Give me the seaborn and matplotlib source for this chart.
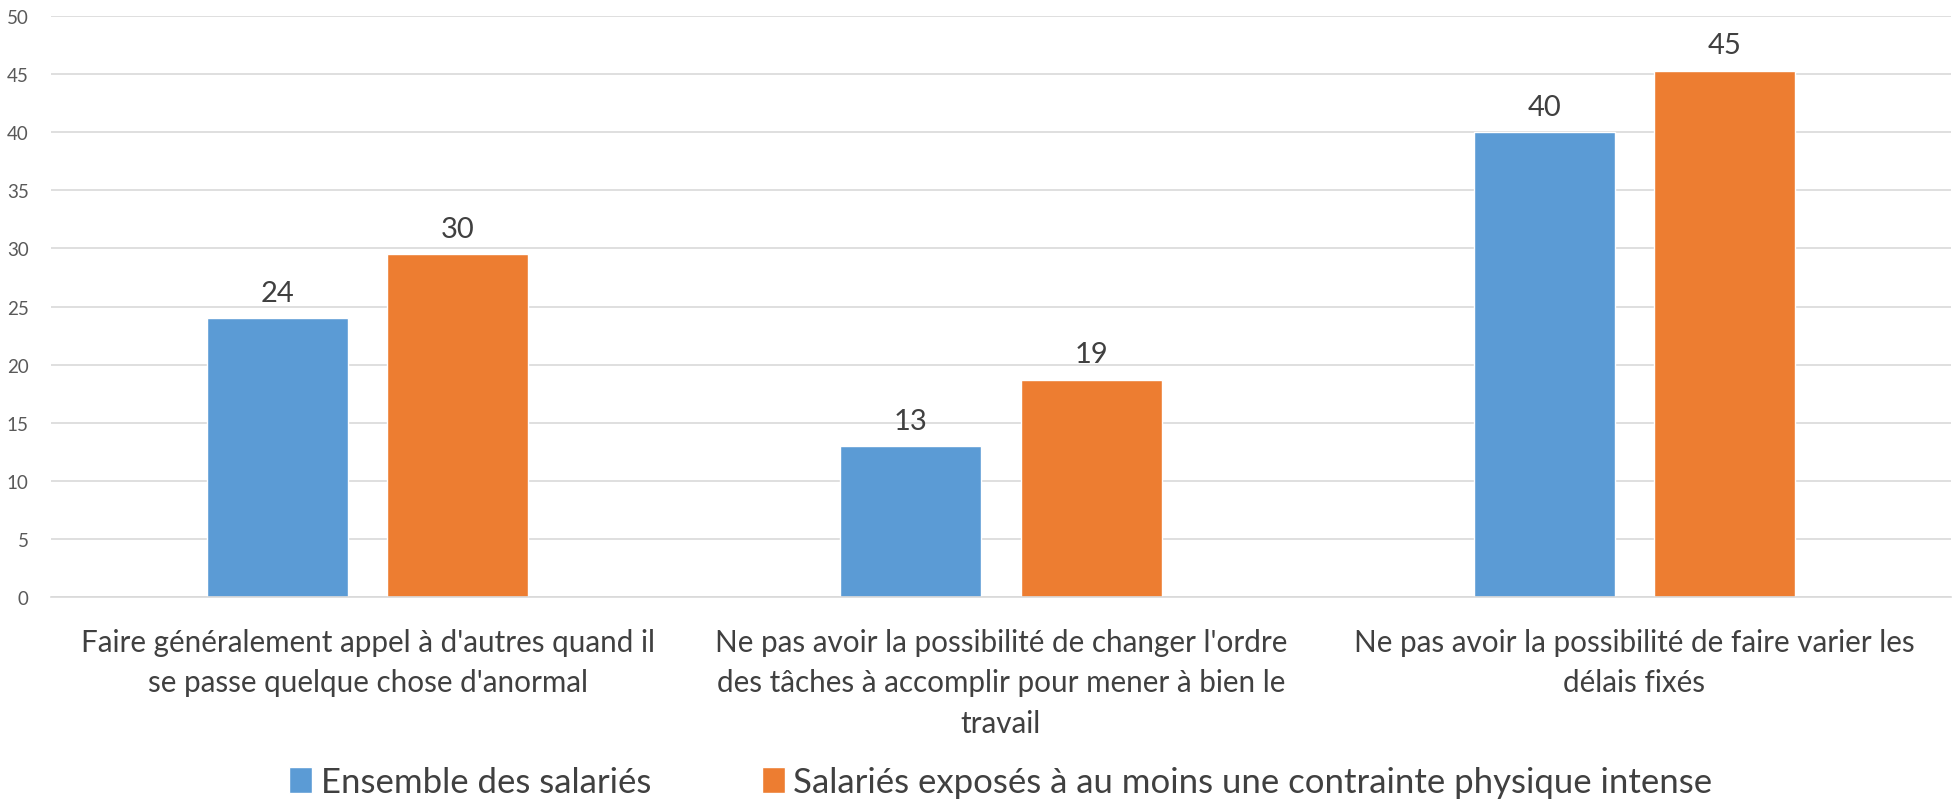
import pandas as pd
import matplotlib.pyplot as plt
import seaborn as sns

categories = [
    "Faire généralement appel à d'autres quand il\nse passe quelque chose d'anormal",
    "Ne pas avoir la possibilité de changer l'ordre\ndes tâches à accomplir pour mener à bien le\ntravail",
    "Ne pas avoir la possibilité de faire varier les\ndélais fixés",
]
series_names = ["Ensemble des salariés",
                "Salariés exposés à au moins une contrainte physique intense"]
ensemble = [24, 13, 40]
exposes = [29.5, 18.7, 45.3]
labels_ensemble = ["24", "13", "40"]
labels_exposes = ["30", "19", "45"]
colors = ["#5b9bd5", "#ed7d31"]

df = pd.DataFrame({
    "categorie": categories * 2,
    "serie": [series_names[0]] * 3 + [series_names[1]] * 3,
    "valeur": ensemble + exposes,
})

sns.set_theme(style="white")
plt.rcParams['font.family'] = ['Lato', 'DejaVu Sans']

fig, ax = plt.subplots(figsize=(19.55, 8.03), dpi=100)
fig.subplots_adjust(left=0.026, right=0.998, top=0.979, bottom=0.255)

sns.barplot(data=df, x="categorie", y="valeur", hue="serie",
            palette=colors, width=0.57, gap=0.22, saturation=1,
            ax=ax, legend=True)

for cont, labs in zip(ax.containers, [labels_ensemble, labels_exposes]):
    ax.bar_label(cont, labels=labs, padding=9, fontsize=21, color="#404040")

ax.set_ylim(0, 50)
ax.set_xlim(-0.5, 2.5)
ax.set_yticks(range(0, 51, 5))
ax.grid(axis="y", color="#d9d9d9", linewidth=1.2)
ax.set_axisbelow(True)
for s in ["top", "right", "left"]:
    ax.spines[s].set_visible(False)
ax.spines["bottom"].set_color("#d9d9d9")
ax.spines["bottom"].set_linewidth(1.2)
ax.tick_params(axis="y", length=0, labelsize=13.5, labelcolor="#595959", pad=16)
ax.tick_params(axis="x", length=0, labelsize=21.3, labelcolor="#404040", pad=22)
for t in ax.get_xticklabels():
    t.set_linespacing(1.55)
ax.set_xlabel("")
ax.set_ylabel("")

handles, lbls = ax.get_legend_handles_labels()
ax.legend(handles, lbls, loc="center", bbox_to_anchor=(0.5, -0.318),
          ncol=2, frameon=False, fontsize=25, handlelength=0.65,
          handleheight=0.75, handletextpad=0.25, columnspacing=3.2,
          labelcolor="#404040")

plt.savefig("out.png", dpi=100)
